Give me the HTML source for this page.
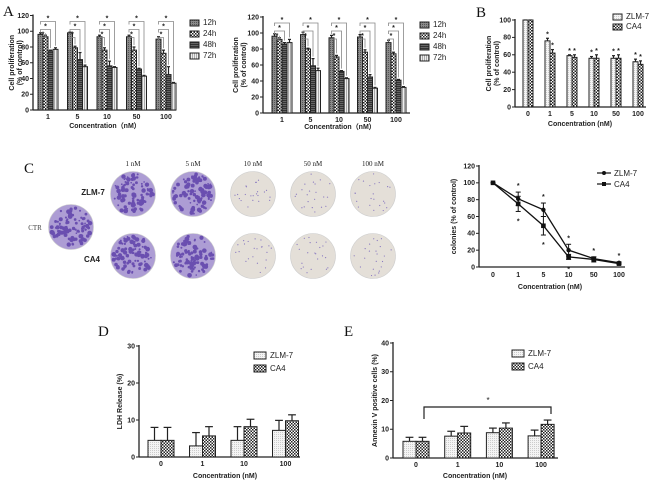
<!DOCTYPE html>
<html><head><meta charset="utf-8"><style>
body{margin:0;background:#fff}
svg{display:block;font-family:"Liberation Sans",sans-serif}
.t{font-size:7px;font-weight:bold;fill:#222}
.L{font-family:"Liberation Serif",serif;font-size:15px;fill:#111}
.lg{font-size:8px;fill:#222}
</style></head><body>
<svg id="fig" width="650" height="485" viewBox="0 0 650 485">
<defs>
<pattern id="p12" width="2" height="2" patternUnits="userSpaceOnUse"><rect width="2" height="2" fill="#8a8a8a"/><rect width="1" height="1" fill="#555"/></pattern>
<pattern id="p24" width="3" height="3" patternUnits="userSpaceOnUse"><rect width="3" height="3" fill="#fff"/><rect width="1.5" height="1.5" fill="#222"/><rect x="1.5" y="1.5" width="1.5" height="1.5" fill="#222"/></pattern>
<pattern id="p48" width="2" height="2" patternUnits="userSpaceOnUse"><rect width="2" height="2" fill="#666"/><rect width="2" height="1" fill="#333"/></pattern>
<pattern id="p72" width="2" height="2" patternUnits="userSpaceOnUse"><rect width="2" height="2" fill="#eee"/><rect width="1" height="2" fill="#aaa"/></pattern>
<pattern id="pz" width="2" height="2" patternUnits="userSpaceOnUse"><rect width="2" height="2" fill="#f4f4f4"/><rect width="1" height="1" fill="#ccc"/></pattern>
<pattern id="pc" width="3" height="3" patternUnits="userSpaceOnUse"><rect width="3" height="3" fill="#fff"/><rect width="1.5" height="1.5" fill="#222"/><rect x="1.5" y="1.5" width="1.5" height="1.5" fill="#222"/></pattern>
</defs>
<text class="L" x="3" y="16">A</text>
<text class="L" x="476" y="17">B</text>
<text class="L" x="24" y="173">C</text>
<text class="L" x="98" y="336">D</text>
<text class="L" x="344" y="336">E</text>
<g id="plates"></g>
</svg>
<script>
// ---- data ----
const aCats=["1","5","10","50","100"];
const a1_12=[96,98,93,93,90], a1_24=[93,79,76,76,72], a1_48=[75,64,56,52,45], a1_72=[77,55,54,43,34];
const a1_e12=[2,1,2,2,3], a1_e24=[2,2,3,4,4], a1_e48=[1,9,6,1,10], a1_e72=[2,2,1,1,1];
const a2_12=[96,98,94,95,88], a2_24=[92,80,70,76,74], a2_48=[86,59,52,45,41], a2_72=[88,53,43,31,32];
const a2_e12=[3,3,3,3,3], a2_e24=[2,1,2,3,2], a2_e48=[2,9,1,3,1], a2_e72=[4,3,1,1,1];
const bCats=["0","1","5","10","50","100"];
const bZ=[100,76,59,56,56,52], bC=[100,62,57,56,56,49];
const bZe=[0,3,1,2,3,3], bCe=[0,4,3,4,4,4];
const cCats=["0","1","5","10","50","100"];
const cZ=[100,81,68,20,10,5], cC=[100,75,49,12,9,4];
const cZe=[0,8,8,7,2,1], cCe=[0,9,11,3,3,1];
const dCats=["0","1","10","100"];
const dZ=[4.5,3,4.5,7.2], dC=[4.5,5.7,8.2,9.8], dZe=[3.5,3.6,3.7,2.7], dCe=[3.5,2.5,2,1.6];
const eZ=[5.8,7.6,8.8,7.7], eC=[5.8,8.7,10.4,11.7], eZe=[1.4,1.7,1.6,2], eCe=[1.4,2.3,1.8,1.5];
const aTicks=[0,20,40,60,80,100,120], bTicks=[0,20,40,60,80,100], dTicks=[0,10,20,30], eTicks=[0,10,20,30,40];

const svg=document.getElementById('fig');
const NS='http://www.w3.org/2000/svg';
function mk(tag,at,parent){const e=document.createElementNS(NS,tag);for(const k in at)e.setAttribute(k,at[k]);(parent||svg).appendChild(e);return e;}
function txt(s,x,y,cls,anchor,parent){const t=mk('text',{x:x,y:y,class:cls,'text-anchor':anchor||'middle'},parent);t.textContent=s;return t;}

function axes(g,o){
  const ys=v=>o.y0-(v-o.min)/(o.max-o.min)*(o.y0-o.y1);
  mk('line',{x1:o.x0,y1:o.y0,x2:o.x0,y2:o.y1-1,stroke:'#222','stroke-width':1.3},g);
  mk('line',{x1:o.x0,y1:o.y0,x2:o.x2,y2:o.y0,stroke:'#222','stroke-width':1.3},g);
  o.ticks.forEach(v=>{const y=ys(v);
    const tk=mk('line',{x1:o.x0-3,y1:y,x2:o.x0,y2:y,stroke:'#222'},g);
    
    const t=txt(String(v),o.x0-4,y+2.3,'t','end',g);
    });
  const yl=txt(o.ylab[0],0,0,'t','middle',g);
  yl.setAttribute('transform',`translate(${o.ylx},${(o.y0+o.y1)/2}) rotate(-90)`);
  
  if(o.ylab[1]){const y2=txt(o.ylab[1],0,0,'t','middle',g);
    y2.setAttribute('transform',`translate(${o.ylx+8},${(o.y0+o.y1)/2}) rotate(-90)`);
    }
  const xt=txt(o.xlab,o.xtx,o.xty,'t','middle',g);
  
  return ys;
}
function barChart(name,o,series,errs,fills){
  const g=mk('g',{});
  
  const ys=axes(g,o);
  const n=series.length, bw=o.bw;
  const tops=[];
  o.cats.forEach((c,i)=>{
    const cx=o.c0+i*o.step;
    const t=txt(c,cx,o.y0+9,'t','middle',g);
    
    tops.push([]);
    series.forEach((s,j)=>{
      const x=cx-n*bw/2+j*bw, y=ys(s[i]);
      const ey=ys(s[i]+errs[j][i]);
      const el=mk('line',{x1:x+bw/2,y1:y,x2:x+bw/2,y2:ey,stroke:'#222','stroke-width':1.2},g);
      
      mk('line',{x1:x+bw/2-bw*0.3,y1:ey,x2:x+bw/2+bw*0.3,y2:ey,stroke:'#222','stroke-width':1.2},g);
      const r=mk('rect',{x:x,y:y,width:bw,height:o.y0-y,fill:fills[j],stroke:'#222','stroke-width':1},g);
      
      tops[i].push({x:x+bw/2,y:ey});
    });
  });
  return {g,ys,tops};
}
function legend(g,x,y,dy,labels,fills,w,h){
  labels.forEach((l,i)=>{
    const r=mk('rect',{x:x,y:y+i*dy-h+1,width:w,height:h,fill:fills[i],stroke:'#222','stroke-width':1},g);
    
    const t=txt(l,x+w+4,y+i*dy,'lg','start',g);
    
  });
}
function star(g,x,y){const t=txt('*',x,y,'t','middle',g);}

const hF=['url(#p12)','url(#p24)','url(#p48)','url(#p72)'];
// Panel A1
let A1=barChart('chart-a1',{x0:33,x2:176,y0:110,y1:15.5,min:0,max:120,ticks:aTicks,cats:aCats,c0:48,step:29.5,bw:5,
  ylab:['Cell proliferation','(% of control)'],ylx:14,xlab:'Concentration（nM）',xtx:105,xty:128},
  [a1_12,a1_24,a1_48,a1_72],[a1_e12,a1_e24,a1_e48,a1_e72],hF);
legend(A1.g,190,25,11,['12h','24h','48h','72h'],hF,9,6);
// Panel A2
let A2=barChart('chart-a2',{x0:263,x2:410,y0:113,y1:17,min:0,max:120,ticks:aTicks,cats:aCats,c0:282,step:28.5,bw:5,
  ylab:['Cell proliferation','(% of control)'],ylx:238,xlab:'Concentration（nM）',xtx:340,xty:129},
  [a2_12,a2_24,a2_48,a2_72],[a2_e12,a2_e24,a2_e48,a2_e72],hF);
legend(A2.g,420,27,11,['12h','24h','48h','72h'],hF,9,6);
[[A1,15.5,110],[A2,17,113]].forEach(([C,yt,y0])=>{
  C.tops.forEach(grp=>{
    for(let k=1;k<=3;k++){
      const yb=yt+6+(3-k)*8;
      const p=mk('polyline',{points:`${grp[0].x},${yb+3} ${grp[0].x},${yb} ${grp[k].x},${yb} ${grp[k].x},${grp[k].y-2}`,fill:'none',stroke:'#888','stroke-width':0.8},C.g);
      
      star(C.g,(grp[0].x+grp[k].x)/2,yb-1);
    }
  });
});
// Panel B
const bF=['url(#pz)','url(#pc)'];
let B=barChart('chart-b',{x0:515,x2:646,y0:107,y1:20,min:0,max:100,ticks:bTicks,cats:bCats,c0:528,step:22,bw:5,
  ylab:['Cell proliferation','(% of control)'],ylx:491,xlab:'Concentration (nM)',xtx:580,xty:126},
  [bZ,bC],[bZe,bCe],bF);
legend(B.g,613,19,10,['ZLM-7','CA4'],bF,9,6);
B.tops.forEach((grp,i)=>{if(i>0)grp.forEach(p=>star(B.g,p.x,p.y-2));});
// Panel D
let D=barChart('chart-d',{x0:139,x2:300,y0:457,y1:346,min:0,max:30,ticks:dTicks,cats:dCats,c0:161,step:41.5,bw:13,
  ylab:['LDH Release (%)'],ylx:122,xlab:'Concentration (nM)',xtx:225,xty:478},
  [dZ,dC],[dZe,dCe],bF);
legend(D.g,254,358,13,['ZLM-7','CA4'],bF,12,7);
// Panel E
let E=barChart('chart-e',{x0:393,x2:558,y0:458,y1:343,min:0,max:40,ticks:eTicks,cats:dCats,c0:416,step:41.7,bw:13,
  ylab:['Annexin V positive cells (%)'],ylx:377,xlab:'Concentration (nM)',xtx:475,xty:478},
  [eZ,eC],[eZe,eCe],bF);
legend(E.g,512,356,13,['ZLM-7','CA4'],bF,12,7);
const br=mk('polyline',{points:'424,419 424,407 551,407 551,414',fill:'none',stroke:'#222','stroke-width':1.2},E.g);

txt('*',488,403,'lg','middle',E.g);

// Panel C line chart
(function(){
  const g=mk('g',{});
  const o={x0:479,x2:625,y0:267,y1:166,min:0,max:120,ticks:aTicks,ylab:['colonies  (% of control)'],ylx:456,xlab:'Concentration (nM)',xtx:550,xty:289};
  const ys=axes(g,o);
  const xs=i=>493+i*25.2;
  cCats.forEach((c,i)=>{const t=txt(c,xs(i),o.y0+10,'t','middle',g);});
  [[cZ,cZe,'circle'],[cC,cCe,'square']].forEach(([s,e,m],si)=>{
    const l=mk('polyline',{points:s.map((v,i)=>xs(i)+','+ys(v)).join(' '),fill:'none',stroke:'#111','stroke-width':1.3},g);
    
    s.forEach((v,i)=>{const x=xs(i),y=ys(v);
      mk('line',{x1:x,y1:ys(v-e[i]),x2:x,y2:ys(v+e[i]),stroke:'#111'},g);
      mk('line',{x1:x-2.5,y1:ys(v-e[i]),x2:x+2.5,y2:ys(v-e[i]),stroke:'#111'},g);
      mk('line',{x1:x-2.5,y1:ys(v+e[i]),x2:x+2.5,y2:ys(v+e[i]),stroke:'#111'},g);
      const p=m==='circle'?mk('circle',{cx:x,cy:y,r:2.2,fill:'#111'},g):mk('rect',{x:x-2.3,y:y-2.3,width:4.6,height:4.6,fill:'#111'},g);
      
    });
  });
  cCats.forEach((c,i)=>{if(i>0)star(g,xs(i),ys(Math.max(cZ[i]+cZe[i],cC[i]+cCe[i]))-4);});
  [1,2,3].forEach(i=>star(g,xs(i),ys(Math.min(cC[i]-cCe[i],cZ[i]-cZe[i]))+12));
  [['ZLM-7','circle'],['CA4','square']].forEach(([l,m],i)=>{
    const y=173+i*11;
    mk('line',{x1:597,y1:y,x2:611,y2:y,stroke:'#111','stroke-width':1.2},g);
    if(m==='circle')mk('circle',{cx:604,cy:y,r:2,fill:'#111'},g);else mk('rect',{x:602,y:y-2,width:4,height:4,fill:'#111'},g);
    const t=txt(l,614,y+3,'lg','start',g);
  });
})();

// Plates
(function(){
  const g=document.getElementById('plates');
  const labs=['1 nM','5 nM','10 nM','50 nM','100 nM'], px=[133,193,253,313,373];
  labs.forEach((l,i)=>{const t=txt(l,px[i],166,'','middle',g);t.setAttribute('style','font-family:Liberation Serif,serif;font-size:7px;fill:#222');
    });
  const z=txt('ZLM-7',93,195,'t','middle',g);z.setAttribute('style','font-size:8px');
  const c=txt('CA4',92,262,'t','middle',g);c.setAttribute('style','font-size:8px');
  const ct=txt('CTR',35,230,'','middle',g);ct.setAttribute('style','font-family:Liberation Serif,serif;font-size:7px;fill:#444');
  let seed=7;const rnd=()=>{seed=(seed*9301+49297)%233280;return seed/233280;};
  function plate(cx,cy,dense,name){
    const e=mk('ellipse',{cx:cx,cy:cy,rx:22.5,ry:22.5,fill:dense?'#ad9dd4':'#e4dfd8',stroke:'#ccc','stroke-width':0.6},g);
    
    const n=dense?90:22;
    for(let k=0;k<n;k++){const a=rnd()*6.283,r=Math.sqrt(rnd())*0.92;
      mk('circle',{cx:cx+Math.cos(a)*r*22,cy:cy+Math.sin(a)*r*22,r:dense?0.8+rnd()*1.6:0.6,fill:dense?'#6a4fb0':'#8a7ac0'},g);}
  }
  plate(71,227,true,'plate-ctr');
  px.forEach((x,i)=>{plate(x,194,i<2,'plate-zlm7');plate(x,256,i<2,'plate-ca4');});
})();
</script>
</body></html>
